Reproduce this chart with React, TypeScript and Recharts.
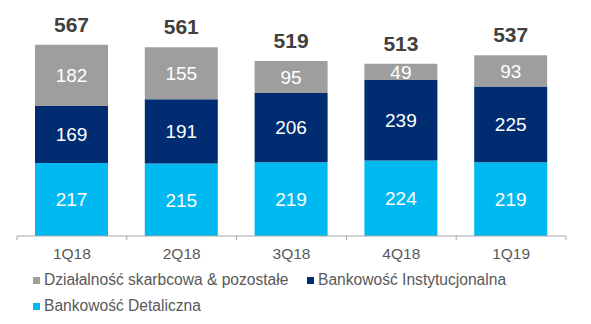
import { BarChart, Bar, XAxis, YAxis, LabelList, Legend } from "recharts";

const quarters = ["1Q18", "2Q18", "3Q18", "4Q18", "1Q19"];
const retail = [217, 215, 219, 224, 219];
const institutional = [169, 191, 206, 239, 225];
const treasury = [182, 155, 95, 49, 93];
const totals = [567, 561, 519, 513, 537];

const seriesNames = {
  treasury: "Działalność skarbcowa & pozostałe",
  institutional: "Bankowość Instytucjonalna",
  retail: "Bankowość Detaliczna",
};

const colors = {
  treasury: "#9e9e9e",
  institutional: "#002d72",
  retail: "#00b9f0",
};

const data = quarters.map((q, i) => ({
  quarter: q,
  retail: retail[i],
  institutional: institutional[i],
  treasury: treasury[i],
  total: totals[i],
}));

const W = 591;
const H = 324;
const margin = { top: 34, right: 25, left: 17, bottom: 8 };
const step = (W - margin.left - margin.right) / quarters.length;
const FONT = "'Liberation Sans', Arial, sans-serif";

function AxisTick(props: any) {
  const { x, y, payload, index } = props;
  return (
    <g>
      <line x1={x - step / 2} x2={x - step / 2} y1={y} y2={y + 4} stroke="#a6a6a6" />
      {index === quarters.length - 1 && (
        <line x1={x + step / 2} x2={x + step / 2} y1={y} y2={y + 4} stroke="#a6a6a6" />
      )}
      <text x={x} y={y + 23} textAnchor="middle" fill="#595959" fontSize={15.5} fontFamily={FONT}>
        {payload.value}
      </text>
    </g>
  );
}

function LegendBox() {
  const item = (key: keyof typeof colors, left: number, top: number) => (
    <div
      key={key}
      style={{ position: "absolute", left, top, display: "flex", alignItems: "center", whiteSpace: "nowrap" }}
    >
      <span style={{ width: 7, height: 7, background: colors[key], marginRight: 4, display: "inline-block" }} />
      <span style={{ fontSize: 15.6, color: "#595959", fontFamily: FONT, lineHeight: "18px" }}>
        {seriesNames[key]}
      </span>
    </div>
  );
  return (
    <div style={{ position: "relative", width: W, height: 50 }}>
      {item("treasury", 33, 3)}
      {item("institutional", 307, 3)}
      {item("retail", 33, 29)}
    </div>
  );
}

export default function App() {
  return (
    <div style={{ position: "absolute", left: 0, top: 0, background: "#fff" }}>
      <BarChart width={W} height={H} data={data} margin={margin}>
        <XAxis
          dataKey="quarter"
          axisLine={{ stroke: "#a6a6a6" }}
          tickLine={false}
          tickSize={0}
          tickMargin={0}
          tick={<AxisTick />}
          height={30}
          interval={0}
        />
        <YAxis hide domain={[0, 600]} />
        <Legend
          content={<LegendBox />}
          wrapperStyle={{ position: "absolute", left: 0, top: 268, width: W, height: 50 }}
        />
        <Bar dataKey="retail" stackId="a" fill={colors.retail} barSize={73} isAnimationActive={false}>
          <LabelList dataKey="retail" position="center" fill="#fff" fontSize={19} fontFamily={FONT} />
        </Bar>
        <Bar dataKey="institutional" stackId="a" fill={colors.institutional} barSize={73} isAnimationActive={false}>
          <LabelList dataKey="institutional" position="center" fill="#fff" fontSize={19} fontFamily={FONT} />
        </Bar>
        <Bar dataKey="treasury" stackId="a" fill={colors.treasury} barSize={73} isAnimationActive={false}>
          <LabelList dataKey="treasury" position="center" fill="#fff" fontSize={19} fontFamily={FONT} />
          <LabelList
            dataKey="total"
            position="top"
            offset={13}
            fill="#404040"
            fontSize={21}
            fontWeight="bold"
            fontFamily={FONT}
          />
        </Bar>
      </BarChart>
    </div>
  );
}
